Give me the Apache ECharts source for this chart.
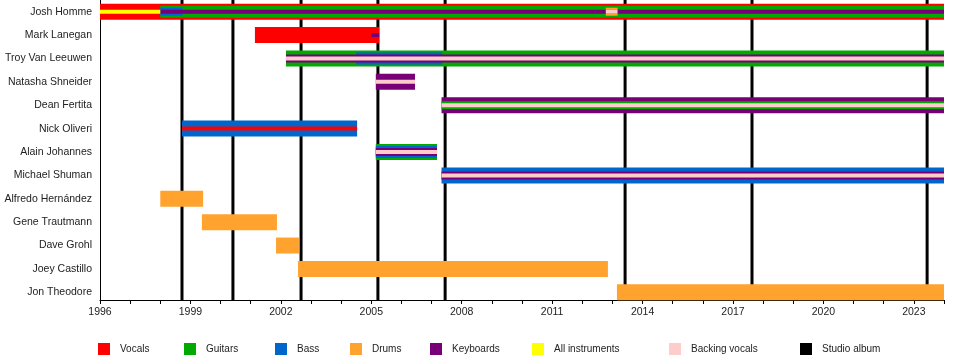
<!DOCTYPE html>
<html><head><meta charset="utf-8">
<script src="https://cdn.jsdelivr.net/npm/echarts@6/dist/echarts.min.js"></script>
<style>html,body{margin:0;padding:0;background:#fff}#c{width:960px;height:360px}</style>
</head><body><div id="c"></div>
<script>
// ---- data ----
const members = ['Josh Homme','Mark Lanegan','Troy Van Leeuwen','Natasha Shneider','Dean Fertita','Nick Oliveri','Alain Johannes','Michael Shuman','Alfredo Hernández','Gene Trautmann','Dave Grohl','Joey Castillo','Jon Theodore'];
const yearStart = 1996, yearEnd = 2024;
// each stint: [memberIndex, from, till, layer]  (layer 0 = outer role, 3 = innermost stripe)
const vocals = [[0,1996,2024,0],[1,2001.14,2005.26,0],[5,1998.72,2004.53,3]];
const guitars = [[0,1998.0,2024,1],[2,2002.17,2024,0],[4,2007.33,2024,2],[6,2005.15,2007.18,0]];
const bass = [[0,1998.0,1998.74,2],[2,2004.5,2007.35,1],[5,1998.72,2004.53,0],[6,2005.15,2007.18,1],[7,2007.33,2024,0]];
const drums = [[0,2012.78,2013.17,2],[8,1998.0,1999.42,0],[9,1999.38,2001.87,0],[10,2001.84,2002.6,0],[11,2002.57,2012.85,0],[12,2013.15,2024,0]];
const keyboards = [[0,1998.0,2024,3],[1,2005.0,2005.26,3],[2,2002.17,2024,2],[3,2005.15,2006.45,0],[4,2007.33,2024,0],[6,2005.15,2007.18,2],[7,2007.33,2024,2]];
const allInstruments = [[0,1996,1998.0,3]];
const backingVocals = [[0,2012.78,2013.17,3],[2,2002.17,2024,3],[3,2005.15,2006.45,3],[4,2007.33,2024,3],[6,2005.15,2007.18,3],[7,2007.33,2024,3]];
const studioAlbums = [1998.72, 2000.41, 2002.67, 2005.22, 2007.45, 2013.42, 2017.63, 2023.44];

// ---- styles ----
const layerHeights = [16, 12, 8, 4];
const roles = [
  {name:'Vocals', color:'#FF0000', data:vocals, legendLeft:98},
  {name:'Guitars', color:'#00AA00', data:guitars, legendLeft:184},
  {name:'Bass', color:'#0066CC', data:bass, legendLeft:275},
  {name:'Drums', color:'#FFA22E', data:drums, legendLeft:350},
  {name:'Keyboards', color:'#770077', data:keyboards, legendLeft:430},
  {name:'All instruments', color:'#FFFF00', data:allInstruments, legendLeft:532},
  {name:'Backing vocals', color:'#FFCCCC', data:backingVocals, legendLeft:669}
];
const fontFam = '"Liberation Sans", Arial, Helvetica, sans-serif';

function barRenderer(color){
  return function(params, api){
    const row = api.value(0), from = api.value(1), till = api.value(2), layer = api.value(3);
    const p0 = api.coord([from, row]);
    const p1 = api.coord([till, row]);
    const h = layerHeights[layer];
    return {type:'rect', shape:{x:p0[0], y:p0[1]-h/2, width:p1[0]-p0[0], height:h},
            style:{fill:color}, z2: 10 + layer*10};
  };
}

const series = roles.map(r => ({
  name:r.name, type:'custom', xAxisIndex:0, yAxisIndex:0, z:3,
  itemStyle:{color:r.color},
  renderItem: barRenderer(r.color),
  encode:{x:[1,2], y:0},
  data:r.data, animation:false, silent:true
}));
series.push({
  name:'Studio album', type:'custom', xAxisIndex:1, yAxisIndex:1, z:1,
  itemStyle:{color:'#000'},
  renderItem(params, api){
    const x = api.value(0);
    const t = api.coord([x, 1]), b = api.coord([x, 0]);
    return {type:'line', shape:{x1:t[0], y1:t[1], x2:b[0], y2:b[1]}, style:{stroke:'#000', lineWidth:3}};
  },
  encode:{x:0},
  data:studioAlbums.map(v => [v]), animation:false, silent:true
});

const legends = roles.map(r => ({name:r.name, left:r.legendLeft})).concat([{name:'Studio album', left:800}]).map(l => ({
  data:[l.name], left:l.left, top:343, orient:'horizontal', icon:'rect', itemWidth:12, itemHeight:12,
  padding:0, selectedMode:false,
  textStyle:{fontSize:10, color:'#222', fontFamily:fontFam, padding:[1,0,0,5]}
}));

const option = {
  backgroundColor:'#fff', animation:false,
  textStyle:{fontFamily:fontFam},
  grid:[
    {left:100, right:16, top:-3, bottom:56},
    {left:100, right:16, top:0, bottom:60}
  ],
  xAxis:[
    {gridIndex:0, type:'value', min:yearStart, max:yearEnd, show:false},
    {gridIndex:1, type:'value', min:yearStart, max:yearEnd, interval:1,
     axisLine:{show:true, lineStyle:{color:'#000', width:1}},
     axisTick:{show:true, length:4, lineStyle:{color:'#000'}},
     splitLine:{show:false},
     axisLabel:{fontSize:10.5, color:'#222', margin:7, fontFamily:fontFam,
       formatter: v => ((v - yearStart) % 3 === 0 ? String(v) : '')}}
  ],
  yAxis:[
    {gridIndex:0, type:'category', data:members, inverse:true,
     axisLine:{show:false}, axisTick:{show:false}, splitLine:{show:false},
     axisLabel:{fontSize:10.5, color:'#222', margin:8, fontFamily:fontFam}},
    {gridIndex:1, type:'value', min:0, max:1,
     axisLine:{show:true, lineStyle:{color:'#000', width:1}},
     axisTick:{show:false}, axisLabel:{show:false}, splitLine:{show:false}}
  ],
  legend: legends,
  series: series
};
const chart = echarts.init(document.getElementById('c'), null, {renderer:'canvas'});
chart.setOption(option);
</script></body></html>
